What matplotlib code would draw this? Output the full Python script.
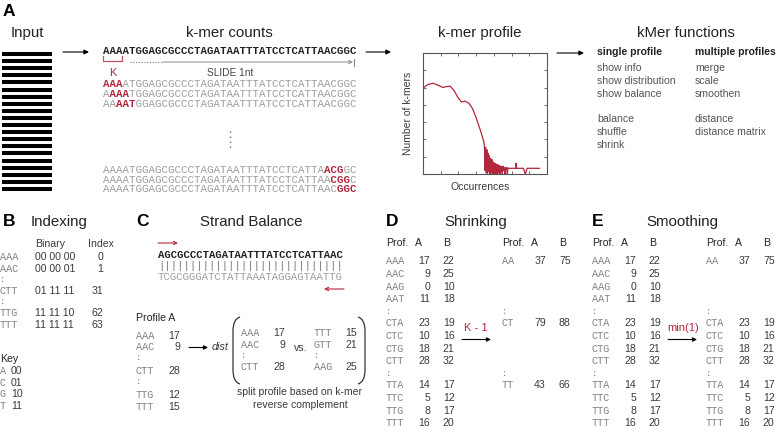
import matplotlib
matplotlib.use('Agg')
import matplotlib.pyplot as plt
import matplotlib.ticker as ticker
from matplotlib.path import Path
from matplotlib.patches import PathPatch

# ---- data ----
read_count = 20
sequence = 'AAAATGGAGCGCCCTAGATAATTTATCCTCATTAACGGC'
kmer_size = 3
first_windows = [0, 1, 2]
last_windows = [34, 35, 36]

curve_occ = [0, 4, 8, 12, 16, 19, 22, 25, 28, 31, 34, 37, 40, 43, 46, 49]
curve_cnt = [71, 74, 75, 73.5, 71.5, 72.3, 72.5, 69, 63.5, 59.5, 60.2, 58.5, 54, 46, 37, 27]
noise_occ = [49.5, 50, 50.5, 51, 51.5, 52, 52.5, 53, 53.5, 54, 54.5, 55, 55.5, 56, 56.5,
             57, 57.5, 58, 58.5, 59, 59.5, 60, 60.5, 61, 61.5, 62, 62.5, 63, 63.5, 64,
             64.5, 65, 65.5, 66, 66.5, 67, 67.5, 68, 68.5, 69]
noise_cnt = [24, 3, 22, 1, 20, 0, 17, 2, 15, 0, 13, 1, 12, 0, 10, 0, 9, 1, 8.5, 0,
             8, 0, 7.5, 1, 7, 0, 6.5, 2, 6, 0, 6.5, 3, 5.5, 0, 5, 4, 5.5, 0, 5, 4.7]
tail_occ = [70, 72, 74, 75, 75, 75.5, 78, 81, 82.5, 84, 88, 94]
tail_cnt = [4.7, 4.7, 4.7, 4.7, 8.8, 4.7, 4.7, 4.7, 0, 4.7, 4.7, 4.7]

functions_single = ['show info', 'show distribution', 'show balance', '', 'balance', 'shuffle', 'shrink']
functions_multiple = ['merge', 'scale', 'smoothen', '', 'distance', 'distance matrix']

index_kmers = ['AAA', 'AAC', 'CTT', 'TTG', 'TTT']
index_binary = ['00 00 00', '00 00 01', '01 11 11', '11 11 10', '11 11 11']
index_values = [0, 1, 31, 62, 63]
key_bases = ['A', 'C', 'G', 'T']
key_codes = ['00', '01', '10', '11']

strand_fwd = 'AGCGCCCTAGATAATTTATCCTCATTAAC'
strand_rev = 'TCGCGGGATCTATTAAATAGGAGTAATTG'
profile_a_kmers = ['AAA', 'AAC', 'CTT', 'TTG', 'TTT']
profile_a_counts = [17, 9, 28, 12, 15]
split_fwd_kmers = ['AAA', 'AAC', 'CTT']
split_fwd_counts = [17, 9, 28]
split_rev_kmers = ['TTT', 'GTT', 'AAG']
split_rev_counts = [15, 21, 25]

table_kmers = ['AAA', 'AAC', 'AAG', 'AAT', 'CTA', 'CTC', 'CTG', 'CTT', 'TTA', 'TTC', 'TTG', 'TTT']
table_a = [17, 9, 0, 11, 23, 10, 18, 28, 14, 5, 8, 16]
table_b = [22, 25, 10, 18, 19, 16, 21, 32, 17, 12, 17, 20]
shrunk_kmers = ['AA', 'CT', 'TT']
shrunk_a = [37, 79, 43]
shrunk_b = [75, 88, 66]
smooth_kmers = ['AA', 'CTA', 'CTC', 'CTG', 'CTT', 'TTA', 'TTC', 'TTG', 'TTT']
smooth_a = [37, 23, 10, 18, 28, 14, 5, 8, 16]
smooth_b = [75, 19, 16, 21, 32, 17, 12, 17, 20]

# ---- style ----
SANS = 'Liberation Sans'
MONO = 'Liberation Mono'
RED = '#b3263c'
DARK = '#222222'
TXT = '#3a3a3a'
GREY_NAME = '#808080'
GREY_SEQ = '#9c9c9c'

W, H = 778, 433
fig = plt.figure(figsize=(W / 100, H / 100), dpi=100)
ax = fig.add_axes([0, 0, 1, 1])
ax.set_xlim(0, W)
ax.set_ylim(H, 0)
ax.axis('off')


def txt(x, y, s, size=7.5, color=TXT, family=SANS, ha='left', **kw):
  ax.text(x, y, s, fontsize=size, color=color, family=family, ha=ha, va='center', **kw)


def arrow(x0, x1, y, color='black', style='-|>', lw=0.8, ms=7):
  ax.annotate('', xy=(x1, y), xytext=(x0, y),
              arrowprops=dict(arrowstyle=style, color=color, lw=lw, mutation_scale=ms,
                              shrinkA=0, shrinkB=0))


def letter(x, y, s):
  txt(x, y, s, size=12.5, color='black', weight='bold')


def highlighted(x, y, seq, start, size=7.75):
  stop = start + kmer_size
  grey = ''.join(' ' if start <= i < stop else c for i, c in enumerate(seq))
  red = ''.join(c if start <= i < stop else ' ' for i, c in enumerate(seq))
  txt(x, y, grey, size=size, color=GREY_SEQ, family=MONO)
  txt(x, y, red, size=size, color=RED, family=MONO, weight='bold')


# ================= panel A =================
letter(3, 12, 'A')
txt(27, 33, 'Input', size=10.8, color=DARK, ha='center')
for i in range(read_count):
  yy = 54 + i * (189 - 54) / (read_count - 1)
  ax.plot([2, 52], [yy, yy], color='black', lw=2.9, solid_capstyle='butt')
arrow(63, 89, 52)

txt(229, 33, 'k-mer counts', size=10.8, color=DARK, ha='center')
txt(103, 51, sequence, size=7.75, color=DARK, family=MONO, weight='bold')
ax.plot([103.5, 103.5, 122, 122], [56, 61, 61, 56], color=RED, lw=0.9, alpha=0.8)
txt(113, 73.5, 'K', size=8, color=RED, ha='center')
ax.plot([130, 163], [62, 62], color='#777777', lw=0.8, ls=(0, (1, 1.5)))
arrow(163, 353, 62, color='#888888', style='->', lw=0.7, ms=6)
ax.plot([354, 354], [58.5, 65.5], color='#888888', lw=0.8)
txt(230, 73.5, 'SLIDE 1nt', size=7.3, color='#444444', ha='center')

for start, yy in zip(first_windows, [84, 94, 104]):
  highlighted(103, yy, sequence, start)
ax.plot([230, 230], [131, 149], color='#666666', lw=1.0, ls=(0, (1, 2.6)))
for start, yy in zip(last_windows, [170, 180, 189.5]):
  highlighted(103, yy, sequence, start)
arrow(366, 391, 52)

# k-mer profile plot
txt(480, 33, 'k-mer profile', size=10.8, color=DARK, ha='center')
ax_p = fig.add_axes([423 / W, 1 - 174 / H, 124 / W, 121 / H])
ax_p.plot(curve_occ + noise_occ + tail_occ, curve_cnt + noise_cnt + tail_cnt,
          color=RED, lw=0.9)
ax_p.set_xlim(0, 100)
ax_p.set_ylim(0, 100)
ax_p.xaxis.set_major_locator(ticker.MultipleLocator(100 / 7))
ax_p.yaxis.set_major_locator(ticker.MultipleLocator(100 / 7))
ax_p.tick_params(direction='in', length=2.5, width=0.6, colors='#555555',
                 top=True, right=True, labelbottom=False, labelleft=False)
for sp in ax_p.spines.values():
  sp.set_color('#555555')
  sp.set_linewidth(0.8)
txt(408, 113, 'Number of k-mers', size=7.5, ha='center', rotation=90)
txt(480, 187, 'Occurrences', size=7.5, ha='center')
arrow(557, 584, 53)

txt(686, 33, 'kMer functions', size=10.8, color=DARK, ha='center')
txt(597, 52, 'single profile', size=7.5, color=DARK, weight='bold')
txt(695, 52, 'multiple profiles', size=7.5, color=DARK, weight='bold')
for i, s in enumerate(functions_single):
  txt(597, 68 + i * 12.8, s, size=7.6, color='#555555')
for i, s in enumerate(functions_multiple):
  txt(695, 68 + i * 12.8, s, size=7.6, color='#555555')

# ================= panel B =================
letter(3, 222, 'B')
txt(31, 222, 'Indexing', size=10.8, color=DARK)
txt(35, 244, 'Binary', size=7.6)
txt(88, 244, 'Index', size=7.6)
b_rows = [257, 269.5, 291, 313, 325.5]
for k, bits, v, yy in zip(index_kmers, index_binary, index_values, b_rows):
  txt(0, yy, k, size=7.3, color=GREY_NAME, family=MONO)
  txt(35, yy, bits, size=7.6)
  txt(103, yy, str(v), size=7.6, ha='right')
for yy in [279.5, 301.5]:
  txt(0, yy, ':', size=6.5, color=GREY_NAME, family=MONO)
txt(0, 359, 'Key', size=7.6, color=DARK)
for i, (b, c) in enumerate(zip(key_bases, key_codes)):
  txt(0, 371 + i * 11.7, b, size=7.3, color=GREY_NAME, family=MONO)
  txt(11, 371 + i * 11.7, c, size=7.6)

# ================= panel C =================
letter(136, 222, 'C')
txt(251, 222, 'Strand Balance', size=10.8, color=DARK, ha='center')
arrow(158, 178, 243, color=RED, style='->', lw=0.8, ms=6)
txt(158, 255, strand_fwd, size=7.7, color=DARK, family=MONO, weight='bold')
txt(158, 266, '|' * len(strand_fwd), size=7.7, color='#777777', family=MONO)
txt(158, 277, strand_rev, size=7.7, color=GREY_SEQ, family=MONO)
arrow(344, 324, 289, color=RED, style='->', lw=0.8, ms=6)

txt(136, 318, 'Profile A', size=7.6, color=DARK)
c_rows = [336, 347.5, 371, 394.5, 407]
for k, v, yy in zip(profile_a_kmers, profile_a_counts, c_rows):
  txt(136, yy, k, size=7.3, color=GREY_NAME, family=MONO)
  txt(180, yy, str(v), size=7.6, ha='right')
for yy in [357, 382]:
  txt(136, yy, ':', size=6.5, color=GREY_NAME, family=MONO)
arrow(189, 208, 347.5, lw=0.8, ms=6)
txt(212, 347.5, 'dist', size=7.8, style='italic')

for side in (-1, 1):
  xe = 233 if side < 0 else 365
  xi = xe - side * 7
  verts = [(xi, 317), (xe, 319), (xe, 331), (xe, 370), (xe, 382), (xi, 384)]
  codes = [Path.MOVETO, Path.CURVE3, Path.CURVE3, Path.LINETO, Path.CURVE3, Path.CURVE3]
  ax.add_patch(PathPatch(Path(verts, codes), fill=False, color='#333333', lw=0.9))

split_rows = [333, 344.5, 367]
for k, v, yy in zip(split_fwd_kmers, split_fwd_counts, split_rows):
  txt(241, yy, k, size=7.3, color=GREY_NAME, family=MONO)
  txt(285, yy, str(v), size=7.6, ha='right')
for k, v, yy in zip(split_rev_kmers, split_rev_counts, split_rows):
  txt(314, yy, k, size=7.3, color=GREY_NAME, family=MONO)
  txt(357, yy, str(v), size=7.6, ha='right')
txt(241, 355, ':', size=6.5, color=GREY_NAME, family=MONO)
txt(314, 355, ':', size=6.5, color=GREY_NAME, family=MONO)
txt(301, 348, 'vs.', size=7.6, ha='center')
txt(300, 392, 'split profile based on k-mer', size=7.5, ha='center')
txt(300, 405, 'reverse complement', size=7.5, ha='center')


# ================= panels D and E =================
def row_y(i):
  return 261.5 + (i // 4) * 62 + (i % 4) * 12.6


def table(x0, kmers, a, b, rows):
  txt(x0, 243, 'Prof.', size=7.6, color=DARK)
  txt(x0 + 29, 243, 'A', size=7.6, color=DARK)
  txt(x0 + 57, 243, 'B', size=7.6, color=DARK)
  for k, va, vb, r in zip(kmers, a, b, rows):
    txt(x0, row_y(r), k, size=7.3, color=GREY_NAME, family=MONO)
    txt(x0 + 44, row_y(r), str(va), size=7.6, ha='right')
    txt(x0 + 57, row_y(r), str(vb), size=7.6)
  for yy in [312, 373.5]:
    txt(x0, yy, ':', size=6.5, color=GREY_NAME, family=MONO)


letter(386, 222, 'D')
txt(476, 222, 'Shrinking', size=10.8, color=DARK, ha='center')
table(386, table_kmers, table_a, table_b, list(range(12)))
txt(476, 328, 'K - 1', size=8, color=RED, ha='center')
arrow(462, 491, 339.5, lw=0.8, ms=6)
table(502, shrunk_kmers, shrunk_a, shrunk_b, [0, 4, 8])

letter(592, 222, 'E')
txt(682, 222, 'Smoothing', size=10.8, color=DARK, ha='center')
table(592, table_kmers, table_a, table_b, list(range(12)))
txt(683, 328, 'min(1)', size=8, color=RED, ha='center')
arrow(668, 697, 339.5, lw=0.8, ms=6)
table(706, smooth_kmers, smooth_a, smooth_b, [0, 4, 5, 6, 7, 8, 9, 10, 11])

fig.savefig('out.png', dpi=100)
